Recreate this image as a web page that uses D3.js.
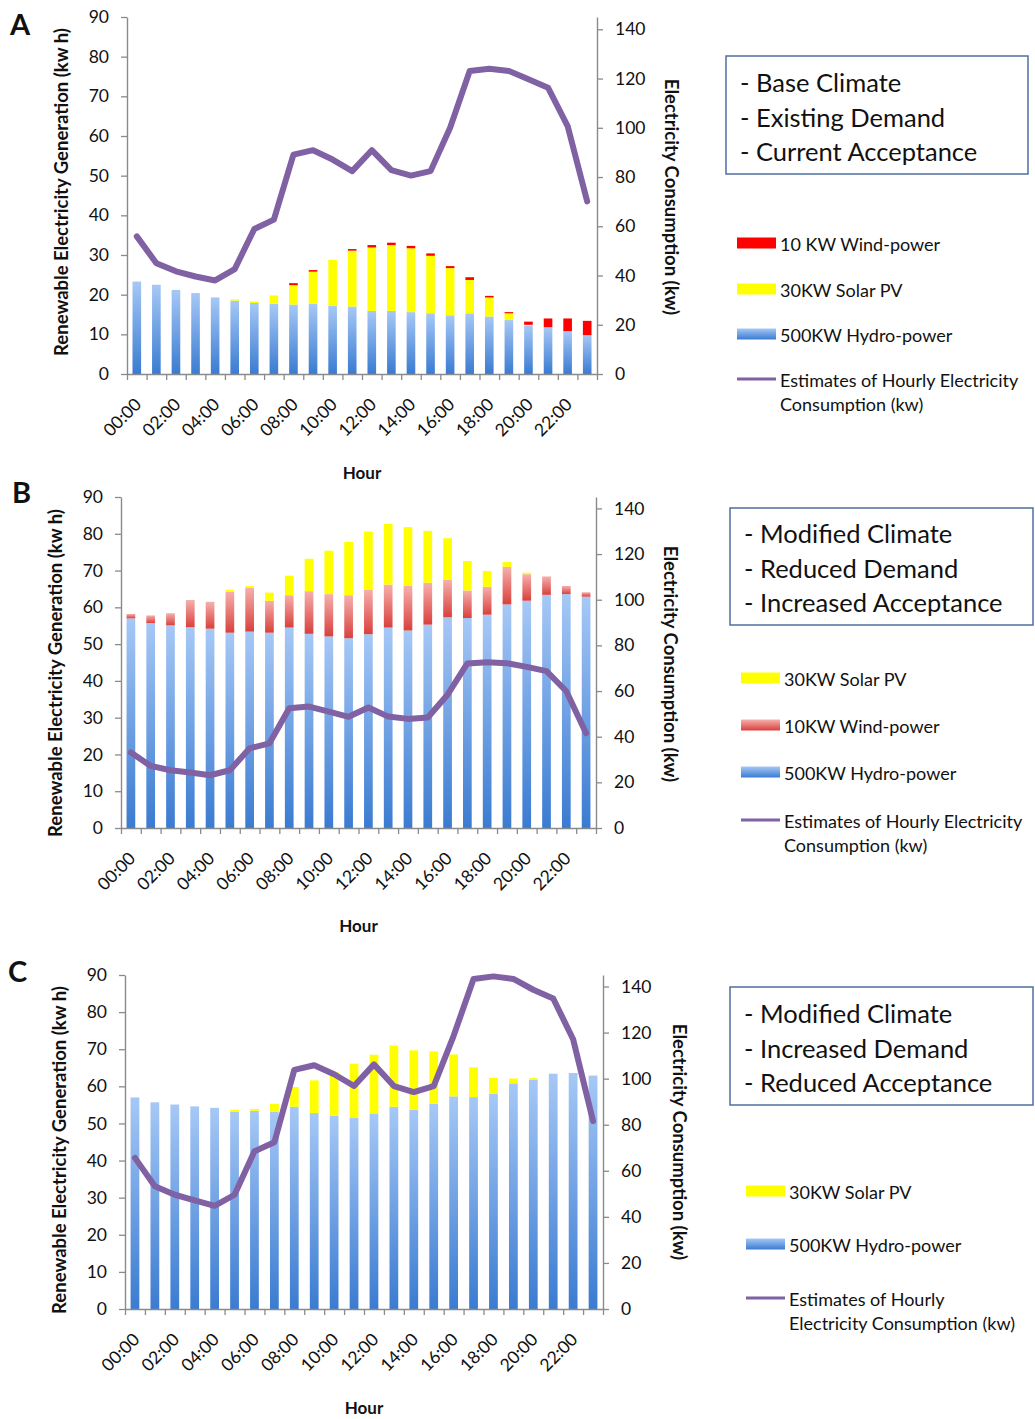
<!DOCTYPE html>
<html>
<head>
<meta charset="utf-8">
<script src="https://cdn.jsdelivr.net/npm/d3@7"></script>
<style>
  body { margin: 0; background: #fff; }
  svg { display: block; }
  text { font-family: Lato, "Open Sans", sans-serif; fill: #111; }
</style>
</head>
<body>
<svg id="chart" width="1035" height="1419"></svg>
<script>
// Hourly categories and axis ticks
const hours = ["00:00","01:00","02:00","03:00","04:00","05:00","06:00","07:00","08:00","09:00","10:00","11:00",
               "12:00","13:00","14:00","15:00","16:00","17:00","18:00","19:00","20:00","21:00","22:00","23:00"];
const hourLabels = ["00:00","02:00","04:00","06:00","08:00","10:00","12:00","14:00","16:00","18:00","20:00","22:00"];
const genTicks = [0,10,20,30,40,50,60,70,80,90];
const useTicks = [0,20,40,60,80,100,120,140];

// Scenario A: base climate, existing demand, current acceptance (kWh / kW)
const hydroBase  = [23.3,22.5,21.2,20.4,19.3,18.5,17.9,17.7,17.5,17.7,17.2,17.0,15.9,15.9,15.6,15.3,14.8,15.3,14.5,13.6,12.1,11.8,10.8,9.8];
const solarBase  = [0,0,0,0,0,0.3,0.4,2.1,4.9,8.1,11.6,14.1,16.0,16.6,16.1,14.5,11.9,8.4,4.8,1.7,0.3,0,0,0];
const windBase   = [0,0,0,0,0,0,0,0,0.5,0.4,0,0.4,0.6,0.6,0.6,0.6,0.5,0.7,0.4,0.3,0.8,2.2,3.2,3.6];
const demandExisting = [55.9,45.0,41.7,39.6,38.0,42.6,58.9,62.7,89.1,90.9,87.1,82.4,90.9,82.8,80.6,82.4,100.0,123.1,124.0,123.1,119.7,116.3,100.7,70.1];

// Modified climate (shared by scenarios B and C)
const hydroModified = [57.0,55.7,55.1,54.6,54.2,53.1,53.4,53.1,54.5,52.8,52.1,51.6,52.7,54.5,53.7,55.3,57.3,57.1,58.0,60.8,61.8,63.4,63.6,62.9];
const solarModified = [0,0,0,0,0,0.6,0.5,2.2,5.3,8.8,11.8,14.5,15.8,16.5,16.0,14.1,11.3,8.0,4.3,1.3,0.4,0,0,0];

// Scenario B: increased acceptance adds wind, demand reduced
const windIncreased = [1.2,2.1,3.3,7.4,7.3,11.1,11.9,8.7,8.8,11.6,11.5,11.7,12.1,11.7,12.1,11.4,10.2,7.5,7.6,10.2,7.2,5.0,2.2,1.2];
const demandReduced = [33.1,27.2,25.3,24.3,23.1,25.3,34.9,37.1,52.5,53.2,51.0,48.7,52.8,48.8,47.8,48.4,58.4,72.1,72.6,72.2,70.6,68.7,59.9,41.5];

// Scenario C: demand increased
const demandIncreased = [65.6,53.3,49.6,47.2,44.8,49.6,68.5,72.4,103.8,105.8,101.9,96.8,106.2,96.8,94.2,96.8,118.6,143.3,144.4,143.3,138.6,134.8,117.1,81.6];

const scenarioA = ["- Base Climate", "- Existing Demand", "- Current Acceptance"];
const scenarioB = ["- Modified Climate", "- Reduced Demand", "- Increased Acceptance"];
const scenarioC = ["- Modified Climate", "- Increased Demand", "- Reduced Acceptance"];

const svg = d3.select("#chart");
const defs = svg.append("defs");

function vGradient(id, top, bottom) {
  const g = defs.append("linearGradient").attr("id", id)
    .attr("x1", 0).attr("y1", 0).attr("x2", 0).attr("y2", 1);
  g.append("stop").attr("offset", "0%").attr("stop-color", top);
  g.append("stop").attr("offset", "100%").attr("stop-color", bottom);
}
vGradient("gradHydro", "#a6c8f6", "#3a7bd1");
vGradient("gradWind", "#f6b0ad", "#d9403c");

const COLORS = {
  hydro: "url(#gradHydro)",
  solar: "#ffff00",
  windSolid: "#ff0000",
  windGrad: "url(#gradWind)",
  line: "#7f61a4",
  axis: "#8a8a8a",
  box: "#4e6f9e"
};

function drawPanel(p) {
  const g = svg.append("g");
  const x = d3.scaleBand().domain(hours).range([p.x0, p.x1]).paddingInner(0.56).paddingOuter(0.28);
  const slot = d3.scaleLinear().domain([0, 24]).range([p.x0, p.x1]);
  const yL = d3.scaleLinear().domain([0, 90]).range([p.yBase, p.yTop]);
  const yR = d3.scaleLinear().domain([0, 145]).range([p.yBase, p.yTop]);

  // stacked bars
  const rows = hours.map((h, i) => {
    const r = { hour: h };
    p.layers.forEach(l => { r[l.key] = l.values[i]; });
    return r;
  });
  const stack = d3.stack().keys(p.layers.map(l => l.key))(rows);
  stack.forEach((layer, li) => {
    g.append("g").selectAll("rect").data(layer).join("rect")
      .attr("x", d => x(d.data.hour))
      .attr("width", x.bandwidth())
      .attr("y", d => yL(d[1]))
      .attr("height", d => Math.max(0, yL(d[0]) - yL(d[1])))
      .attr("fill", p.layers[li].fill);
  });

  // axes
  const styleAxis = sel => {
    sel.selectAll(".domain").attr("stroke", COLORS.axis).attr("stroke-width", 1.4);
    sel.selectAll(".tick line").attr("stroke", COLORS.axis).attr("stroke-width", 1.3);
    sel.selectAll(".tick text").style("font-family", "Lato, sans-serif").style("font-size", "17.5px").attr("fill", "#1a1a1a");
  };
  g.append("g").attr("transform", `translate(${p.x0},0)`)
    .call(d3.axisLeft(yL).tickValues(genTicks).tickSize(6).tickSizeOuter(0).tickPadding(12))
    .call(styleAxis);
  g.append("g").attr("transform", `translate(${p.x1},0)`)
    .call(d3.axisRight(yR).tickValues(useTicks).tickSize(6).tickSizeOuter(0).tickPadding(12))
    .call(styleAxis);
  g.append("g").attr("transform", `translate(0,${p.yBase})`)
    .call(d3.axisBottom(slot).ticks(24).tickFormat("").tickSize(6).tickSizeOuter(0))
    .call(styleAxis);

  // hour labels, rotated
  g.append("g").selectAll("text").data(hourLabels).join("text")
    .attr("transform", h => `translate(${x(h) + x.bandwidth() / 2 - 3},${p.yBase + 23}) rotate(-45)`)
    .attr("text-anchor", "end")
    .attr("dy", "0.7em")
    .style("font-size", "17.5px")
    .text(h => h);

  // consumption line
  const line = d3.line()
    .x((v, i) => x(hours[i]) + x.bandwidth() / 2)
    .y(v => yR(v));
  g.append("path").datum(p.demand)
    .attr("d", line)
    .attr("fill", "none")
    .attr("stroke", COLORS.line)
    .attr("stroke-width", 6)
    .attr("stroke-linejoin", "round")
    .attr("stroke-linecap", "round");

  // titles
  g.append("text").attr("x", p.letterX).attr("y", p.letterY)
    .style("font-size", "29px").style("font-weight", "bold").text(p.letter);
  g.append("text")
    .attr("transform", `translate(${p.leftTitleX},${p.leftTitleY}) rotate(-90)`)
    .attr("text-anchor", "middle")
    .style("font-size", "18.5px").style("font-weight", "bold")
    .text("Renewable Electricity Generation (kw h)");
  g.append("text")
    .attr("transform", `translate(${p.rightTitleX},${p.rightTitleY}) rotate(90)`)
    .attr("text-anchor", "middle")
    .style("font-size", "18.5px").style("font-weight", "bold")
    .text("Electricity Consumption (kw)");
  g.append("text")
    .attr("x", (p.x0 + p.x1) / 2).attr("y", p.hourY)
    .attr("text-anchor", "middle")
    .style("font-size", "17px").style("font-weight", "bold")
    .text("Hour");

  // scenario box
  g.append("rect").attr("x", p.box.x).attr("y", p.box.y).attr("width", p.box.w).attr("height", p.box.h)
    .attr("fill", "#fff").attr("stroke", COLORS.box).attr("stroke-width", 1.5);
  g.append("g").selectAll("text").data(p.scenario).join("text")
    .attr("x", p.box.tx).attr("y", (d, i) => p.box.ty[i])
    .style("font-size", "25.5px").attr("fill", "#111")
    .text(d => d);

  // series legend
  p.legend.forEach(item => {
    if (item.type === "rect") {
      g.append("rect").attr("x", p.legX).attr("y", item.y - 5.5).attr("width", 39).attr("height", 11)
        .attr("fill", item.fill);
    } else {
      g.append("line").attr("x1", p.legX).attr("x2", p.legX + 39).attr("y1", item.y).attr("y2", item.y)
        .attr("stroke", COLORS.line).attr("stroke-width", 3);
    }
    item.label.forEach((t, j) => {
      g.append("text").attr("x", p.legX + 43).attr("y", item.y + 8 + j * 24)
        .style("font-size", "18px").attr("fill", "#1a1a1a").text(t);
    });
  });
}

drawPanel({
  letter: "A", letterX: 10, letterY: 35,
  x0: 127, x1: 597, yTop: 17, yBase: 374,
  layers: [
    { key: "hydro", values: hydroBase, fill: COLORS.hydro },
    { key: "solar", values: solarBase, fill: COLORS.solar },
    { key: "wind", values: windBase, fill: COLORS.windSolid }
  ],
  demand: demandExisting,
  leftTitleX: 68, leftTitleY: 192,
  rightTitleX: 665, rightTitleY: 197,
  hourY: 479,
  scenario: scenarioA,
  box: { x: 726, y: 56, w: 302, h: 118, tx: 740, ty: [92, 127, 161] },
  legX: 737,
  legend: [
    { type: "rect", fill: COLORS.windSolid, y: 243, label: ["10 KW Wind-power"] },
    { type: "rect", fill: COLORS.solar, y: 289, label: ["30KW Solar PV"] },
    { type: "rect", fill: COLORS.hydro, y: 334, label: ["500KW Hydro-power"] },
    { type: "line", y: 379, label: ["Estimates of Hourly Electricity", "Consumption (kw)"] }
  ]
});

drawPanel({
  letter: "B", letterX: 12, letterY: 503,
  x0: 121, x1: 596, yTop: 497, yBase: 828,
  layers: [
    { key: "hydro", values: hydroModified, fill: COLORS.hydro },
    { key: "wind", values: windIncreased, fill: COLORS.windGrad },
    { key: "solar", values: solarModified, fill: COLORS.solar }
  ],
  demand: demandReduced,
  leftTitleX: 62, leftTitleY: 673,
  rightTitleX: 664, rightTitleY: 664,
  hourY: 932,
  scenario: scenarioB,
  box: { x: 730, y: 508, w: 303, h: 117, tx: 744, ty: [543, 578, 612] },
  legX: 741,
  legend: [
    { type: "rect", fill: COLORS.solar, y: 678, label: ["30KW Solar PV"] },
    { type: "rect", fill: COLORS.windGrad, y: 725, label: ["10KW Wind-power"] },
    { type: "rect", fill: COLORS.hydro, y: 772, label: ["500KW Hydro-power"] },
    { type: "line", y: 820, label: ["Estimates of Hourly Electricity", "Consumption (kw)"] }
  ]
});

drawPanel({
  letter: "C", letterX: 8, letterY: 982,
  x0: 125, x1: 603, yTop: 975, yBase: 1309,
  layers: [
    { key: "hydro", values: hydroModified, fill: COLORS.hydro },
    { key: "solar", values: solarModified, fill: COLORS.solar }
  ],
  demand: demandIncreased,
  leftTitleX: 66, leftTitleY: 1150,
  rightTitleX: 673, rightTitleY: 1142,
  hourY: 1414,
  scenario: scenarioC,
  box: { x: 730, y: 987, w: 303, h: 118, tx: 744, ty: [1023, 1058, 1092] },
  legX: 746,
  legend: [
    { type: "rect", fill: COLORS.solar, y: 1191, label: ["30KW Solar PV"] },
    { type: "rect", fill: COLORS.hydro, y: 1244, label: ["500KW Hydro-power"] },
    { type: "line", y: 1298, label: ["Estimates of Hourly", "Electricity Consumption (kw)"] }
  ]
});
</script>
</body>
</html>
